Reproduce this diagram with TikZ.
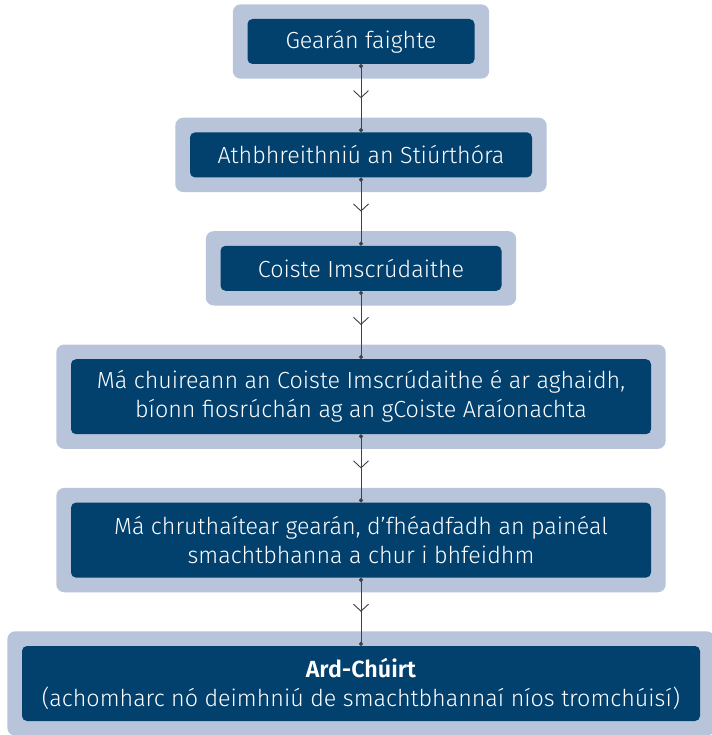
\documentclass[tikz,border=0pt]{standalone}
\usepackage{fontspec}
\setmainfont{Fira Sans Light}[BoldFont={Fira Sans SemiBold}]
\usetikzlibrary{positioning}
\usetikzlibrary{fit,backgrounds}
\usetikzlibrary{arrows.meta,decorations.markings}
\definecolor{stagenavy}{RGB}{2,64,110}
\definecolor{stageframe}{RGB}{183,196,218}
\definecolor{flowgray}{RGB}{64,64,64}
\tikzset{
  stage/.style={shape=rectangle,rounded corners=5pt,fill=stagenavy,text=white,align=center,inner sep=0,font=\fontsize{23.3}{29}\selectfont},
  outerbox/.style={shape=rectangle,rounded corners=8pt,fill=stageframe,inner sep=14.5pt},
  flow/.style={draw=flowgray,line width=1pt,{Circle[length=4pt]}-{Circle[length=4pt]},postaction={decorate},
    decoration={markings,mark=at position 0.5 with {\arrow{Straight Barb[length=7pt,width=15pt,line width=0.9pt]}}}}
}
\begin{document}
\begin{tikzpicture}[x=1pt,y=1pt]
      \useasboundingbox (0,0) rectangle (711,-735);
      \node[stage,minimum width=227pt,minimum height=45pt] (gearan) at (361,-41.5) {Gearán faighte};
      \node[stage,minimum width=342pt,minimum height=45pt,below=68pt of gearan] (athbhreithniu) {Athbhreithniú an Stiúrthóra};
      \node[stage,minimum width=281pt,minimum height=45pt,below=68pt of athbhreithniu] (coiste) {Coiste Imscrúdaithe};
      \node[stage,minimum width=580pt,minimum height=75pt,below=68pt of coiste] (fiosruchan) {Má chuireann an Coiste Imscrúdaithe é ar aghaidh,\\bíonn fiosrúchán ag an gCoiste Araíonachta};
      \node[stage,minimum width=580pt,minimum height=75pt,below=68pt of fiosruchan] (smachtbhanna) {Má chruthaítear gearán, d’fhéadfadh an painéal\\smachtbhanna a chur i bhfeidhm};
      \node[stage,minimum width=678pt,minimum height=75pt,below=68pt of smachtbhanna] (ardchuirt) {\textbf{Ard-Chúirt}\\(achomharc nó deimhniú de smachtbhannaí níos tromchúisí)};
      \begin{scope}[on background layer]
        \foreach \n in {gearan,athbhreithniu,coiste,fiosruchan,smachtbhanna,ardchuirt}
          \node[outerbox,fit=(\n)] {};
      \end{scope}
      \foreach \a/\b in {gearan/athbhreithniu,athbhreithniu/coiste,coiste/fiosruchan,fiosruchan/smachtbhanna,smachtbhanna/ardchuirt}
        \draw[flow] (\a) -- (\b);
    \end{tikzpicture}
\end{document}
